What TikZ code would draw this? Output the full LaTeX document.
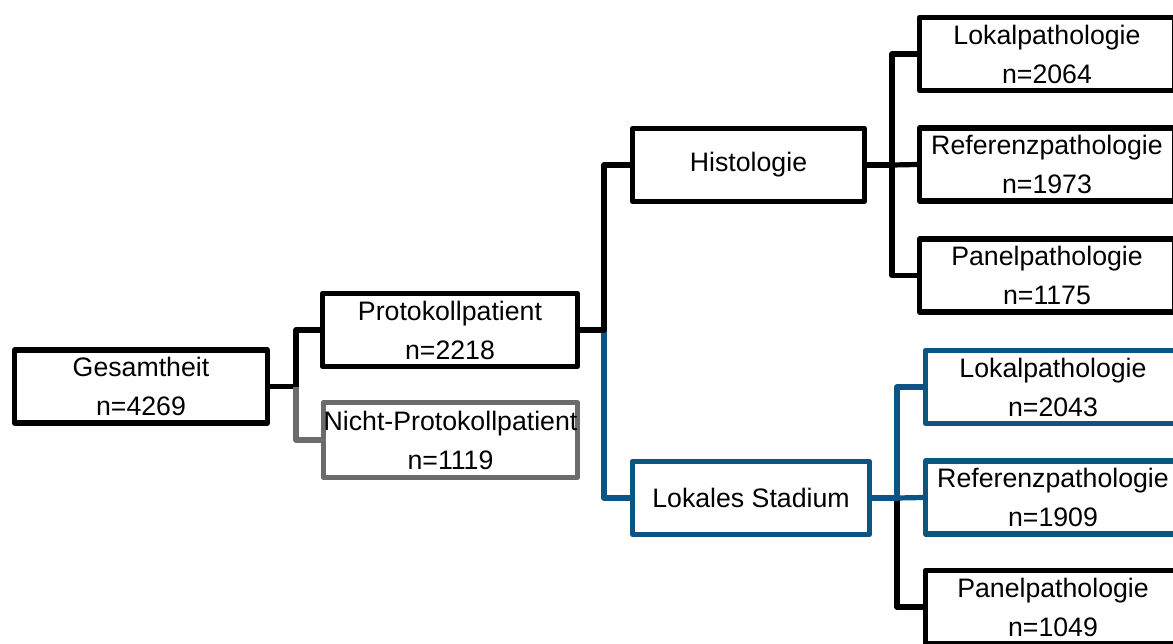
\documentclass[tikz,border=0pt]{standalone}
\usepackage{fontspec}
\setmainfont{Liberation Sans}
\definecolor{branchblue}{HTML}{0B5484}
\definecolor{branchgrey}{HTML}{6B6B6B}
\begin{document}
\begin{tikzpicture}[x=1pt,y=-1pt,
  box/.style={draw, line width=5.2pt, line join=round, inner sep=0pt,
    align=center, font=\fontsize{26.7}{39}\selectfont, fill=white,
    minimum height=73pt},
  wire/.style={line width=5.2pt, line join=round}]
\path[use as bounding box] (0,0) rectangle (1173,643);
\clip (0,0) rectangle (1173,643);

% level 0 and 1
\node[box, minimum width=253pt] (ges) at (141,386.5) {Gesamtheit\\n=4269};
\node[box, minimum width=255pt] (prot) at (450,330) {Protokollpatient\\n=2218};
\node[box, minimum width=254pt, draw=branchgrey, minimum height=75pt] (nicht) at (450.5,440) {Nicht-Protokollpatient\\n=1119};

% level 2
\node[box, minimum width=232pt] (hist) at (748.5,165) {Histologie};
\node[box, minimum width=237pt, draw=branchblue] (lok) at (751,498) {Lokales Stadium};

% level 3, histology branch
\node[box, minimum width=255pt] (hl) at (1047,54) {Lokalpathologie\\n=2064};
\node[box, minimum width=255pt] (hr) at (1047,164.5) {Referenzpathologie\\n=1973};
\node[box, minimum width=255pt] (hp) at (1047,275.5) {Panelpathologie\\n=1175};

% level 3, local stage branch
\node[box, minimum width=255pt, draw=branchblue] (ll) at (1053,387) {Lokalpathologie\\n=2043};
\node[box, minimum width=255pt, draw=branchblue] (lr) at (1053,497.5) {Referenzpathologie\\n=1909};
\node[box, minimum width=255pt] (lp) at (1053,607) {Panelpathologie\\n=1049};

% junction points of the brackets
\coordinate (j1) at (296,386.5);
\coordinate (j2) at (604,330);
\coordinate (j3) at (892,165);
\coordinate (j4) at (897,498);

% connectors
\draw[wire] (ges.east) -- (j1) |- (prot.west);
\draw[wire, branchgrey] (j1) |- (nicht.west);

\draw[wire, branchblue] (j2) |- (lok.west);
\draw[wire] (prot.east) -- (j2) |- (hist.west);

\draw[wire] (hist.east) -- (j3) |- (hl.west);
\draw[wire] (j3) -- (hr.west);
\draw[wire] (j3) |- (hp.west);

\draw[wire] (j4) |- (lp.west);
\draw[wire, branchblue] (lok.east) -- (j4) |- (ll.west);
\draw[wire, branchblue] (j4) -- (lr.west);
\end{tikzpicture}
\end{document}
